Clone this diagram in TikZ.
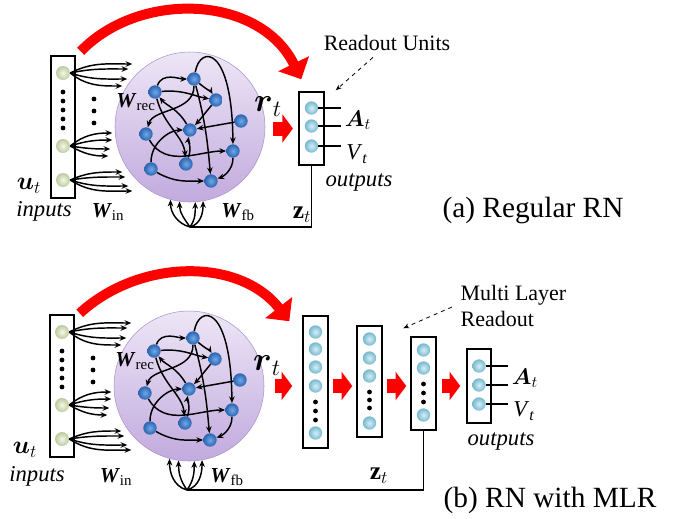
\documentclass[tikz,border=0pt]{standalone}
\usepackage{fix-cm}
\usepackage{amsmath}
\usepackage{amssymb}
\usepackage{fontspec}
\setmainfont{Liberation Serif}
\usepackage{tikz}
\usetikzlibrary{positioning, arrows.meta}
\definecolor{rnBlueIn}{HTML}{6FA8E6}
\definecolor{rnBlueOut}{HTML}{2B64B0}
\definecolor{rnGreenIn}{HTML}{F4F8E8}
\definecolor{rnGreenOut}{HTML}{BCCA9E}
\definecolor{rnCyanIn}{HTML}{D4EFF7}
\definecolor{rnCyanOut}{HTML}{78B8CE}
\definecolor{rnLilacTop}{HTML}{EDE6F6}
\definecolor{rnLilacBot}{HTML}{C2AADE}
\definecolor{rnLilacEdge}{HTML}{A995C8}
\definecolor{rnRed}{HTML}{FF0000}

\begin{document}
\begin{tikzpicture}[x=0.75pt, y=0.75pt,
    inunit/.style={circle, inner sep=0pt, minimum size=10.5pt, inner color=rnGreenIn, outer color=rnGreenOut},
    recunit/.style={circle, inner sep=0pt, minimum size=10pt, inner color=rnBlueIn, outer color=rnBlueOut},
    outunit/.style={circle, inner sep=0pt, minimum size=10pt, inner color=rnCyanIn, outer color=rnCyanOut},
    layerbox/.style={draw, line width=1.1pt, inner sep=0pt, minimum width=18.75pt},
    dotmark/.style={circle, fill=black, inner sep=0pt, minimum size=3.6pt},
    syn/.style={line width=1.1pt, -{Stealth[length=5pt, width=4.2pt]}},
    flow/.style={rnRed, line width=10.5pt, -{Triangle[length=8pt, width=21pt]}},
    skiparrow/.style={rnRed, line width=7.5pt, -{Triangle[length=13pt, width=25pt]}},
    hint/.style={dashed, semithick, -{Stealth[length=4.5pt, width=3.6pt]}},
    note/.style={inner sep=1pt, font=\fontsize{16.5}{20}\selectfont},
    italic/.style={inner sep=1pt, font=\fontsize{17}{20}\selectfont\itshape},
    caption/.style={inner sep=1pt, font=\fontsize{22}{26}\selectfont},
    wlbl/.style={inner sep=1pt, font=\fontsize{16}{18}\selectfont},
    mathlbl/.style={inner sep=1pt, font=\fontsize{19}{22}\selectfont},
    smath/.style={inner sep=1pt, font=\fontsize{17}{20}\selectfont},
  ]
  \useasboundingbox (0,0) rectangle (674,-518);

  % reservoir, inputs and input weights (same in both panels)
  \foreach \p/\dx/\dy in {a/0/0, b/-1/-259}{
    \begin{scope}[shift={(\dx,\dy)}, name prefix=\p-]
      \node[circle, draw=rnLilacEdge, top color=rnLilacTop, bottom color=rnLilacBot,
        minimum size=112.5pt, inner sep=0pt] (net) at (190,-127) {};
      \node[layerbox, minimum width=18pt, minimum height=106.5pt] (in) at (63,-127) {};
      \node[inunit] (in1) at (63,-73) {};
      \node[inunit] (in2) at (63,-146) {};
      \node[inunit] (in3) at (63,-180) {};
      \foreach \y in {92,101,110,119,128} \node[dotmark] (d\y) at (63,-\y) {};
      \foreach \y in {99,111,123} \node[dotmark] (e\y) at (94,-\y) {};
      % input fans
      \foreach \ex/\ey/\a in {62/9/27, 58/4/12, 57/-6/-18, 52/-13/-39}
        \draw[syn] (in1.east) to[out=\a, in=180] ++(\ex,\ey);
      \foreach \ex/\ey/\a in {42/13/39, 42/6/18, 40/-3/-9, 38/-10/-30}
        \draw[syn] (in2.east) to[out=\a, in=180] ++(\ex,\ey);
      \foreach \ex/\ey/\a in {52/8/24, 55/3/9, 58/-6/-18, 62/-11/-33}
        \draw[syn] (in3.east) to[out=\a, in=180] ++(\ex,\ey);
      % recurrent units
      \foreach \n/\x/\y in {1/155/92, 2/194/79, 3/216/100, 4/241/121, 5/146/134,
          6/190/130, 7/233/151, 8/151/169, 9/186/164, 10/211/181}
        \node[recunit] (n\n) at (\x,-\y) {};
      \draw[syn] (n1) to[out=70, in=180] (n2);
      \draw[syn] (n1) to[out=5, in=170] (n3);
      \draw[syn] (n2) to[out=-40, in=120] (n3);
      \draw[syn] (n2) to[out=-90, in=75] (n5);
      \draw[syn] (n1) to[out=-75, in=95] (n9);
      \draw[syn] (n6) to[out=120, in=-50] (n1);
      \draw[syn] (n3) to[out=-130, in=45] (n6);
      \draw[syn] (n4) -- (n6);
      \draw[syn] (n5) to[out=-60, in=180] (n7);
      \draw[syn] (n8) to[out=90, in=180] (n6);
      \draw[syn] (n9) to[out=70, in=-100] (n6);
      \draw[syn] (n8) to[out=-30, in=180] (n10);
      \draw[syn] (n7) to[out=-90, in=20] (n10);
      \draw[syn] (n2) .. controls (200,-45) and (232,-45) .. (n7);
      \draw[syn] (n2) to[out=-75, in=95] (n10);
      \node[wlbl] (wrec) at (136,-102) {\textbf{\textit{W}}\textsubscript{rec}};
      \node[mathlbl, font=\fontsize{25}{28}\selectfont] (rt) at (268,-107) {$\boldsymbol{r}_t$};
    \end{scope}
  }

  % (a) regular readout
  \node[layerbox, minimum height=54.75pt] (a-ro) at (311.5,-128.5) {};
  \foreach \i/\y in {1/108, 2/126, 3/146} \node[outunit] (a-o\i) at (311.5,-\y) {};
  \foreach \i in {1,2,3} \draw[thick] (a-o\i.east) -- ++(23,0);
  \draw[flow] ([xshift=6pt]a-net.east |- a-ro.west) -- ([xshift=-4pt]a-ro.west);
  \draw[skiparrow] ([shift={(5,4)}]a-in.north east) .. controls (140,10) and (260,5) .. ([shift={(3,12)}]a-ro.north west);
  \coordinate (a-fb) at (190,-227);
  \draw[thick] (a-ro.south) |- (a-fb);
  \foreach \ang/\o in {-105/165, -98/125, -86/55, -80/15}
    \draw[syn] (a-fb) to[out=\o, in=-90] (a-net.\ang);
  \node[mathlbl] (a-ut) at (29,-186) {$\boldsymbol{u}_t$};
  \node[italic] (a-inputs) at (44,-211) {inputs};
  \node[wlbl] (a-win) at (108,-212) {\textbf{\textit{W}}\textsubscript{in}};
  \node[wlbl] (a-wfb) at (238,-212) {\textbf{\textit{W}}\textsubscript{fb}};
  \node[mathlbl] (a-zt) at (302,-215) {$\mathbf{z}_t$};
  \node[smath] (a-at) at (358,-120) {$\boldsymbol{A}_t$};
  \node[smath] (a-vt) at (357,-154) {\textit{V}\textsubscript{\textit{t}}};
  \node[italic] (a-outputs) at (359,-183) {outputs};
  \node[note] (a-title) at (387,-43) {Readout Units};
  \draw[hint] ([shift={(-14,-5)}]a-title.south) -- ([shift={(11,1)}]a-ro.north east);
  \node[caption] (a-cap) at (533,-210) {(a) Regular RN};

  % (b) multi layer readout
  \node[layerbox, minimum height=99pt] (b-l1) at (315.5,-382) {};
  \foreach \i/\y in {1/332, 2/349, 3/367, 4/386, 5/433} \node[outunit] (b-l1u\i) at (315.5,-\y) {};
  \foreach \y in {402,411,420} \node[dotmark] (b-l1d\y) at (315.5,-\y) {};
  \node[layerbox, minimum height=83.25pt] (b-l2) at (369.5,-381.5) {};
  \foreach \i/\y in {1/339, 2/358, 3/376, 4/423} \node[outunit] (b-l2u\i) at (369.5,-\y) {};
  \foreach \y in {392,400,408} \node[dotmark] (b-l2d\y) at (369.5,-\y) {};
  \node[layerbox, minimum height=69.75pt] (b-l3) at (423.5,-383.5) {};
  \foreach \i/\y in {1/350, 2/368, 3/415} \node[outunit] (b-l3u\i) at (423.5,-\y) {};
  \foreach \y in {384,393,402} \node[dotmark] (b-l3d\y) at (423.5,-\y) {};
  \node[layerbox, minimum width=18pt, minimum height=55.5pt] (b-ro) at (479,-386) {};
  \foreach \i/\y in {1/366, 2/385, 3/404} \node[outunit] (b-o\i) at (479,-\y) {};
  \foreach \i in {1,2,3} \draw[thick] (b-o\i.east) -- ++(22.5,0);
  \draw[flow] ([xshift=8pt]b-net.east |- b-ro.west) -- ([xshift=-7.5pt]b-l1.west |- b-ro.west);
  \draw[flow] ([xshift=3pt]b-l1.east |- b-ro.west) -- ([xshift=-3pt]b-l2.west |- b-ro.west);
  \draw[flow] ([xshift=3pt]b-l2.east |- b-ro.west) -- ([xshift=-3pt]b-l3.west |- b-ro.west);
  \draw[flow] ([xshift=3.75pt]b-l3.east |- b-ro.west) -- ([xshift=-4.5pt]b-ro.west);
  \draw[skiparrow] ([shift={(5,1)}]b-in.north east) .. controls (140,-258) and (240,-258) .. ([shift={(-13,-6)}]b-l1.north west);
  \coordinate (b-fb) at (187,-490);
  \draw[thick] (b-l3.south) |- (b-fb);
  \foreach \ang/\o in {-105/165, -98/125, -86/55, -80/15}
    \draw[syn] (b-fb) to[out=\o, in=-90] (b-net.\ang);
  \node[mathlbl] (b-ut) at (25,-450) {$\boldsymbol{u}_t$};
  \node[italic] (b-inputs) at (37,-476) {inputs};
  \node[wlbl] (b-win) at (116,-477) {\textbf{\textit{W}}\textsubscript{in}};
  \node[wlbl] (b-wfb) at (227,-477) {\textbf{\textit{W}}\textsubscript{fb}};
  \node[mathlbl] (b-zt) at (379,-476) {$\mathbf{z}_t$};
  \node[smath] (b-at) at (525,-378) {$\boldsymbol{A}_t$};
  \node[smath] (b-vt) at (524,-411) {\textit{V}\textsubscript{\textit{t}}};
  \node[italic] (b-outputs) at (501,-442) {outputs};
  \node[note, align=left, anchor=west] (b-title) at (459,-306) {Multi Layer\\Readout};
  \draw[hint] ([shift={(-7,-1)}]b-title.west) -- ([shift={(-7,8)}]b-l3.north west);
  \node[caption] (b-cap) at (550,-500) {(b) RN with MLR};
\end{tikzpicture}
\end{document}
